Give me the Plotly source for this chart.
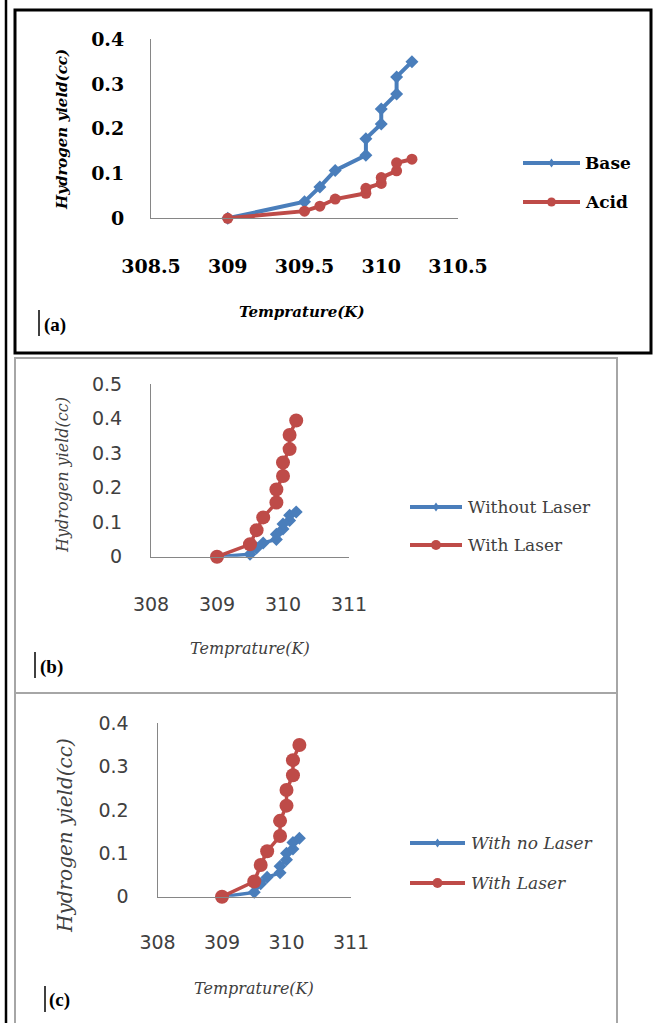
import plotly.graph_objects as go

W, H = 654, 1023

# ---------------- data ----------------
temp = [309, 309.5, 309.6, 309.7, 309.9, 309.9, 310.0, 310.0, 310.1, 310.1, 310.2]
a_base = [0, 0.037, 0.07, 0.107, 0.141, 0.178, 0.211, 0.244, 0.278, 0.316, 0.35]
a_acid = [0, 0.016, 0.027, 0.043, 0.056, 0.067, 0.078, 0.091, 0.106, 0.124, 0.132]
b_without = [0, 0.007, 0.025, 0.04, 0.05, 0.065, 0.08, 0.095, 0.105, 0.12, 0.13]
b_with = [0, 0.036, 0.077, 0.114, 0.157, 0.195, 0.234, 0.273, 0.312, 0.353, 0.395]
c_nolaser = [0, 0.01, 0.03, 0.045, 0.055, 0.07, 0.085, 0.1, 0.11, 0.125, 0.135]
c_with = [0, 0.035, 0.073, 0.105, 0.14, 0.175, 0.21, 0.246, 0.28, 0.315, 0.35]

a_xticks = [308.5, 309, 309.5, 310, 310.5]
a_yticks = [0, 0.1, 0.2, 0.3, 0.4]
b_xticks = [308, 309, 310, 311]
b_yticks = [0, 0.1, 0.2, 0.3, 0.4, 0.5]
c_xticks = [308, 309, 310, 311]
c_yticks = [0, 0.1, 0.2, 0.3, 0.4]

BLUE = "#4A7EBB"
RED = "#BE4B48"
AXC = "#868686"


def px(x):
    return x / W


def py(y):
    return 1 - y / H


fig = go.Figure()


def add_series(x, y, name, color, symbol, msize, lw, xa, ya):
    fig.add_trace(go.Scatter(
        x=x, y=y, name=name, mode="lines+markers",
        line=dict(color=color, width=lw),
        marker=dict(symbol=symbol, size=msize, color=color),
        xaxis=xa, yaxis=ya, cliponaxis=False, showlegend=False))


add_series(temp, a_base, "Base", BLUE, "diamond", 10, 4, "x", "y")
add_series(temp, a_acid, "Acid", RED, "circle", 11, 4, "x", "y")
add_series(temp, b_without, "Without Laser", BLUE, "diamond", 10, 3.5, "x2", "y2")
add_series(temp, b_with, "With Laser", RED, "circle", 14, 3.5, "x2", "y2")
add_series(temp, c_nolaser, "With no Laser", BLUE, "diamond", 10, 3.5, "x3", "y3")
add_series(temp, c_with, "With Laser", RED, "circle", 14, 3.5, "x3", "y3")


def fmtnum(t):
    return str(int(t)) if float(t).is_integer() else str(t)


def xaxis(dom, rng, ticks, font, standoff, anchor):
    return dict(domain=dom, range=rng, tickvals=ticks,
                ticktext=[fmtnum(t) for t in ticks], anchor=anchor,
                showline=True, linecolor=AXC, linewidth=1, showgrid=False,
                zeroline=False, ticks="", tickfont=font, automargin=False,
                ticklabelstandoff=standoff, fixedrange=True)


def yaxis(dom, rng, ticks, font, standoff, anchor):
    return dict(domain=dom, range=rng, tickvals=ticks,
                ticktext=[("0" if t == 0 else str(t)) for t in ticks],
                showline=True, linecolor=AXC, linewidth=1, showgrid=False,
                zeroline=False, ticks="", tickfont=font, anchor=anchor,
                automargin=False, ticklabelstandoff=standoff, fixedrange=True)


fa = dict(family="DejaVu Serif", size=19, color="#000000", weight="bold")
fb = dict(family="DejaVu Sans", size=19, color="#404040")

fig.update_layout(
    template="none",
    xaxis=xaxis([px(151), px(458)], [308.5, 310.5], a_xticks, fa, 31, "y"),
    yaxis=yaxis([py(218.3), py(39.3)], [0, 0.4], a_yticks, fa, 22, "x"),
    xaxis2=xaxis([px(151), px(349)], [308, 311], b_xticks, fb, 30, "y2"),
    yaxis2=yaxis([py(556.7), py(384.3)], [0, 0.5], b_yticks, fb, 24, "x2"),
    xaxis3=xaxis([px(157.5), px(351)], [308, 311], c_xticks, fb, 28, "y3"),
    yaxis3=yaxis([py(896.7), py(723.3)], [0, 0.4], c_yticks, fb, 24, "x3"),
)

shapes = []
ann = []

# borders
shapes.append(dict(type="line", xref="paper", yref="paper", x0=px(6), x1=px(6),
                   y0=py(0), y1=py(H), line=dict(color="black", width=2.5)))
shapes.append(dict(type="rect", xref="paper", yref="paper", x0=px(15), x1=px(651),
                   y0=py(353), y1=py(10), line=dict(color="black", width=3)))
shapes.append(dict(type="rect", xref="paper", yref="paper", x0=px(15), x1=px(617),
                   y0=py(693), y1=py(358), line=dict(color="#A6A6A6", width=2)))
shapes.append(dict(type="rect", xref="paper", yref="paper", x0=px(15), x1=px(617),
                   y0=py(1040), y1=py(693), line=dict(color="#A6A6A6", width=2)))

# panel label bars
for xb, y0, y1 in [(39, 310, 336), (35, 652, 678), (45, 986, 1012)]:
    shapes.append(dict(type="line", xref="paper", yref="paper", x0=px(xb), x1=px(xb),
                       y0=py(y0), y1=py(y1), line=dict(color="black", width=1.5)))


def label(x, y, text, font, xanchor="center", angle=0):
    ann.append(dict(x=px(x), y=py(y), xref="paper", yref="paper", text=text,
                    showarrow=False, font=font, xanchor=xanchor, yanchor="middle",
                    textangle=angle))


lab_font = dict(family="Liberation Serif", size=19, color="black", weight="bold")
label(42, 325, "(a)", lab_font, "left")
label(38, 667, "(b)", lab_font, "left")
label(47, 1000, "(c)", lab_font, "left")

# axis titles
ta = dict(family="DejaVu Serif", size=15, color="black", weight="bold", style="italic")
label(62, 130, "Hydrogen yield(cc)", ta, angle=-90)
label(301, 312, "Temprature(K)", ta)

tb = dict(family="DejaVu Serif", size=16, color="#404040", style="italic")
label(62, 475, "Hydrogen yield(cc)", tb, angle=-90)
label(250, 648, "Temprature(K)", tb)

tc1 = dict(family="DejaVu Serif", size=20, color="#404040", style="italic")
tc2 = dict(family="DejaVu Serif", size=16, color="#404040", style="italic")
label(65, 836, "Hydrogen yield(cc)", tc1, angle=-90)
label(254, 988, "Temprature(K)", tc2)


# legends (drawn manually)
def legend_key(x0, x1, y, color, kind, msize):
    shapes.append(dict(type="line", xref="paper", yref="paper", x0=px(x0), x1=px(x1),
                       y0=py(y), y1=py(y), line=dict(color=color, width=4)))
    xm = (x0 + x1) / 2
    r = msize / 2
    if kind == "diamond":
        path = (f"M {px(xm)},{py(y - r)} L {px(xm + r * 0.7)},{py(y)} "
                f"L {px(xm)},{py(y + r)} L {px(xm - r * 0.7)},{py(y)} Z")
        shapes.append(dict(type="path", xref="paper", yref="paper", path=path,
                           fillcolor=color, line=dict(color=color, width=0)))
    else:
        shapes.append(dict(type="circle", xref="paper", yref="paper",
                           x0=px(xm - r), x1=px(xm + r), y0=py(y + r), y1=py(y - r),
                           fillcolor=color, line=dict(color=color, width=0)))


la = dict(family="DejaVu Serif", size=17, color="black", weight="bold")
legend_key(523, 580, 163, BLUE, "diamond", 9)
legend_key(523, 580, 202, RED, "circle", 9)
label(583, 163, "Base", la, "left")
label(583, 202, "Acid", la, "left")

lb = dict(family="DejaVu Serif", size=17, color="#404040")
legend_key(410, 462, 507, BLUE, "diamond", 9)
legend_key(410, 462, 545, RED, "circle", 10)
label(466, 507, "Without Laser", lb, "left")
label(466, 545, "With Laser", lb, "left")

lc = dict(family="DejaVu Serif", size=17, color="#404040", style="italic")
legend_key(410, 465, 843, BLUE, "diamond", 9)
legend_key(410, 465, 883, RED, "circle", 10)
label(469, 843, "With no Laser", lc, "left")
label(469, 883, "With Laser", lc, "left")

fig.update_layout(
    width=W, height=H, margin=dict(l=0, r=0, t=0, b=0, pad=0), autosize=False,
    paper_bgcolor="white", plot_bgcolor="white",
    shapes=shapes, annotations=ann, showlegend=False,
)

fig.write_html(
    "out.html",
    config={"displayModeBar": False, "staticPlot": True},
    post_script="document.body.style.margin='0';document.body.style.overflow='hidden';",
)
